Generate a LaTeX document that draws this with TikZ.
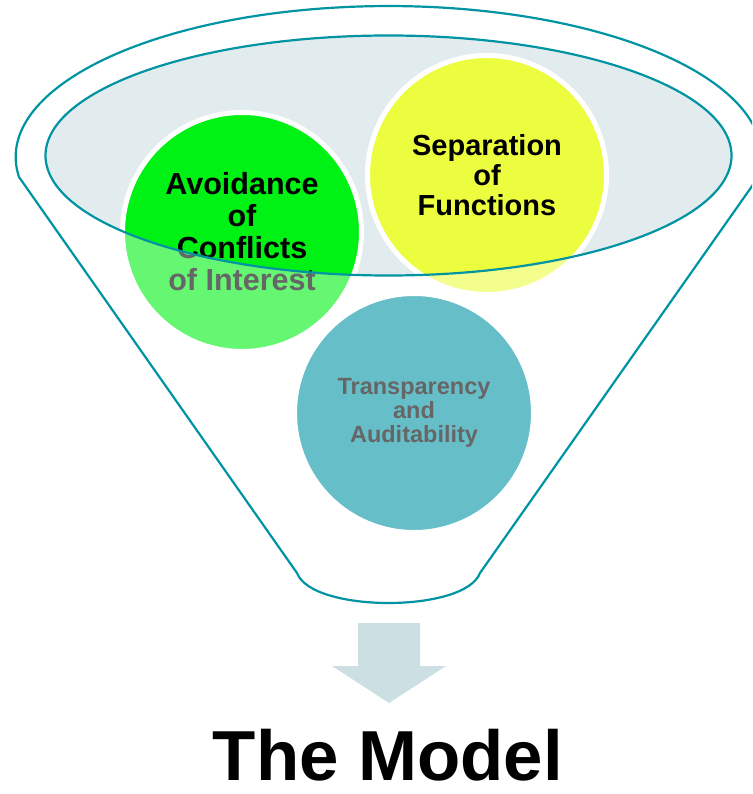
\documentclass[tikz,border=0pt]{standalone}
\usepackage{fontspec}
\setmainfont{Liberation Sans}
\usepackage{xcolor}
\definecolor{funnelteal}{RGB}{0,148,163}
\definecolor{rimfill}{RGB}{226,236,239}
\definecolor{avoidgreen}{RGB}{0,242,20}
\definecolor{sepyellow}{RGB}{236,253,63}
\definecolor{arrowgrey}{RGB}{204,223,227}

\begin{document}
\begin{tikzpicture}[x=1pt,y=-1pt,
	bubble/.style={circle, minimum size=239pt, inner sep=0pt, draw=white, line width=5pt, align=center},
	faded/.style={fill=#1!60, text=black!60},
	vivid/.style={fill=#1, text=black},
	funnel/.style={draw=funnelteal, line width=2.2pt}]
	\useasboundingbox (0,0) rectangle (752,794);
	\clip (0,0) rectangle (752,794);

	% funnel body
	\draw[funnel] (19,177) arc[start angle=172.4, end angle=367.6, x radius=373, y radius=151]
		-- (480,573) .. controls (465,613) and (312,613) .. (297,573) -- cycle;

	% bubbles, pale where they leave the rim
	\node[bubble, faded=avoidgreen, font=\bfseries\fontsize{30.5}{32}\selectfont] (avoid) at (242,232) {Avoidance\\of\\Conflicts\\of Interest};
	\node[bubble, faded=sepyellow, font=\bfseries\fontsize{29}{30}\selectfont] (sep) at (487,175) {Separation\\of\\Functions};
	\node[bubble, faded=funnelteal, font=\bfseries\fontsize{23.5}{24}\selectfont] (transp) at (414,413) {Transparency\\and\\Auditability};

	% inside the rim
	\begin{scope}
		\clip (388.5,155.5) ellipse[x radius=343, y radius=120];
		\fill[rimfill] (388.5,155.5) ellipse[x radius=343, y radius=120];
		\node[bubble, vivid=avoidgreen, font=\bfseries\fontsize{30.5}{32}\selectfont] (avoidIn) at (242,232) {Avoidance\\of\\Conflicts\\of Interest};
		\node[bubble, vivid=sepyellow, font=\bfseries\fontsize{29}{30}\selectfont] (sepIn) at (487,175) {Separation\\of\\Functions};
	\end{scope}
	\draw[funnel] (388.5,155.5) ellipse[x radius=343, y radius=120];

	% down arrow
	\fill[arrowgrey] (358,623) -- (420,623) -- (420,666) -- (446,666) -- (389,703) -- (332,666) -- (358,666) -- cycle;

	\node[font=\bfseries\fontsize{70.8}{80}\selectfont, anchor=base, inner sep=0pt] (model) at (388,780) {The Model};
\end{tikzpicture}
\end{document}
